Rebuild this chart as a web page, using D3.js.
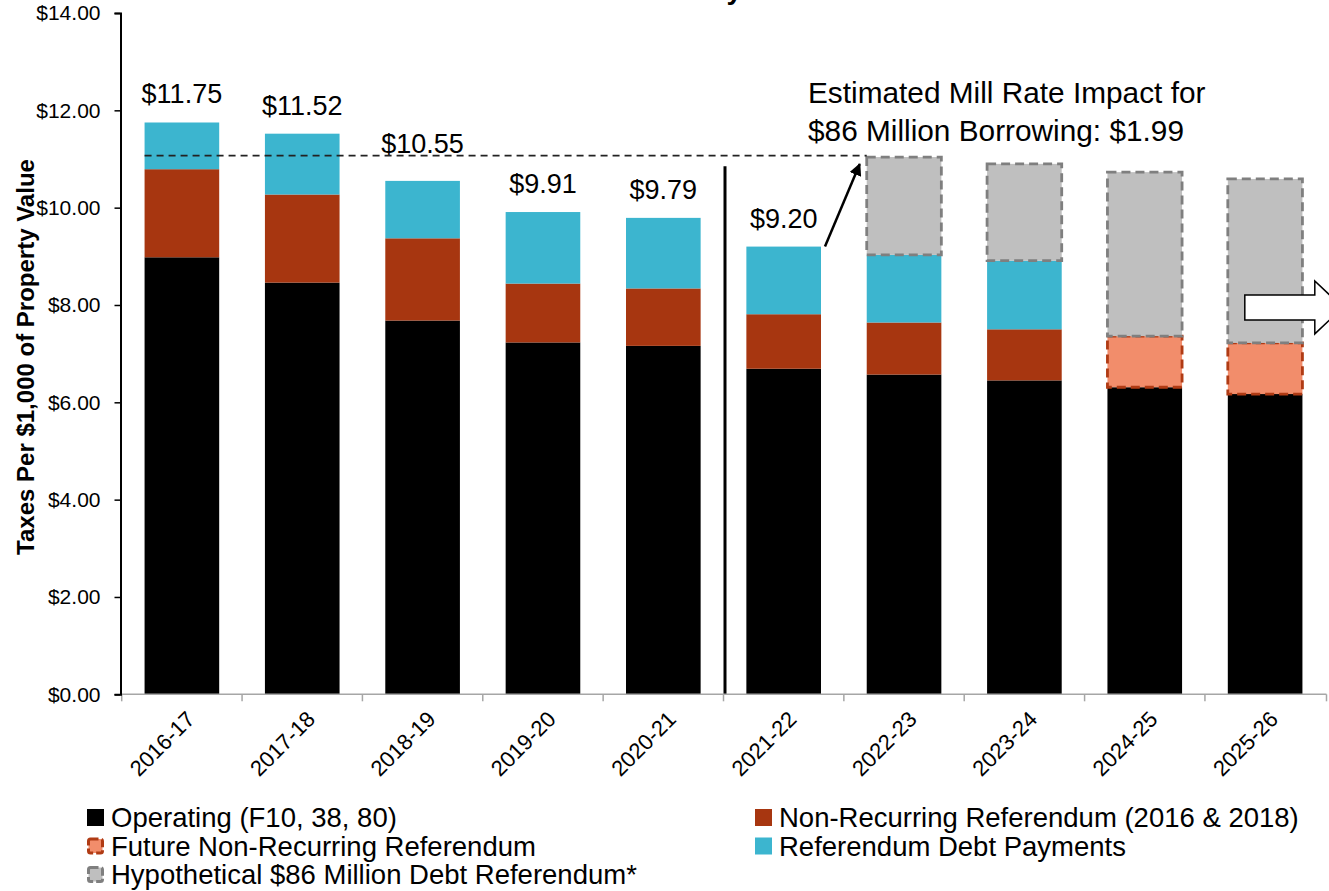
<!DOCTYPE html>
<meta charset="utf-8">
<head>
<style>
body { margin: 0; background: #fff; }
svg { display: block; font-family: "Liberation Sans", Arial, sans-serif; }
.tick text { fill: #000; }
</style>
</head>
<body>
<script src="https://d3js.org/d3.v7.min.js"></script>
<script>

// chart data
var years = ["2016-17", "2017-18", "2018-19", "2019-20", "2020-21",
             "2021-22", "2022-23", "2023-24", "2024-25", "2025-26"];
var operating          = [8.98, 8.46, 7.68, 7.23, 7.16, 6.69, 6.57, 6.45, 6.31, 6.17];
var nonRecurring       = [1.81, 1.81, 1.69, 1.21, 1.18, 1.12, 1.07, 1.05, 0, 0];
var futureNonRecurring = [0, 0, 0, 0, 0, 0, 0, 0, 1.05, 1.05];
var debtPayments       = [0.96, 1.25, 1.18, 1.47, 1.45, 1.39, 1.39, 1.41, 0, 0];
var hypothetical       = [0, 0, 0, 0, 0, 0, 2.01, 1.99, 3.37, 3.37];
var yTicks = [0, 2, 4, 6, 8, 10, 12, 14];
var millImpact = 1.99;

var keys = ["operating", "nonRecurring", "futureNonRecurring", "debtPayments", "hypothetical"];
var names = {
  operating: "Operating (F10, 38, 80)",
  nonRecurring: "Non-Recurring Referendum (2016 & 2018)",
  futureNonRecurring: "Future Non-Recurring Referendum",
  debtPayments: "Referendum Debt Payments",
  hypothetical: "Hypothetical $86 Million Debt Referendum*"
};
var fills = {
  operating: "#000000",
  nonRecurring: "#A73610",
  futureNonRecurring: "#F28D6B",
  debtPayments: "#3CB5CF",
  hypothetical: "#BFBFBF"
};
var dashStroke = { futureNonRecurring: "#B03B14", hypothetical: "#7F7F7F" };

var data = years.map(function(y, i) {
  return {
    year: y,
    operating: operating[i],
    nonRecurring: nonRecurring[i],
    futureNonRecurring: futureNonRecurring[i],
    debtPayments: debtPayments[i],
    hypothetical: hypothetical[i]
  };
});

var width = 1329, height = 891;
var plot = {left: 120.5, right: 1326.5, top: 13, bottom: 694.3};

var svg = d3.select("body").append("svg")
    .attr("width", width)
    .attr("height", height);

var x = d3.scaleBand()
    .domain(years)
    .range([plot.left, plot.right])
    .paddingInner(0.38)
    .paddingOuter(0.2);

var y = d3.scaleLinear()
    .domain([0, 14])
    .range([plot.bottom, plot.top]);

// title (mostly above the visible area)
svg.append("text")
    .attr("x", 742)
    .attr("y", -1)
    .attr("text-anchor", "end")
    .attr("font-size", 28)
    .attr("font-weight", "bold")
    .text("Mill Rate History");

// stacked bars
var series = d3.stack().keys(keys)(data);

svg.append("g").selectAll("g")
  .data(series)
  .enter().append("g")
    .each(function(s) {
      var key = s.key;
      d3.select(this).selectAll("rect")
        .data(s.filter(function(d) { return d[1] - d[0] > 0; }))
        .enter().append("rect")
          .attr("x", function(d) { return x(d.data.year); })
          .attr("y", function(d) { return y(d[1]); })
          .attr("width", x.bandwidth())
          .attr("height", function(d) { return y(d[0]) - y(d[1]); })
          .attr("fill", fills[key])
          .attr("stroke", dashStroke[key] || "none")
          .attr("stroke-width", dashStroke[key] ? 2.8 : 0)
          .attr("stroke-dasharray", dashStroke[key] ? "9 5" : null);
    });

// totals above the bars without the hypothetical borrowing
var refTotal = data[6].operating + data[6].nonRecurring + data[6].debtPayments + data[6].hypothetical;
var yDash = y(refTotal) - 1.5;

data.forEach(function(d) {
  if (d.hypothetical > 0) return;
  var total = d.operating + d.nonRecurring + d.futureNonRecurring + d.debtPayments;
  var base = y(total) - 19;
  if (base > yDash && base - 20 < yDash) base = yDash - 3;
  svg.append("text")
      .attr("x", x(d.year) + x.bandwidth() / 2)
      .attr("y", base)
      .attr("text-anchor", "middle")
      .attr("font-size", 27)
      .text(d3.format("$.2f")(total));
});

// dashed reference line at the 2022-23 level
svg.append("line")
    .attr("x1", x(years[0]))
    .attr("x2", x("2022-23"))
    .attr("y1", yDash)
    .attr("y2", yDash)
    .attr("stroke", "#222")
    .attr("stroke-width", 1.8)
    .attr("stroke-dasharray", "7 5");

// divider between actual and projected years
var xDiv = x("2021-22") - x.step() * x.paddingInner() / 2 + 1.5;
svg.append("line")
    .attr("x1", xDiv).attr("x2", xDiv)
    .attr("y1", y(10.85)).attr("y2", y(0))
    .attr("stroke", "#000")
    .attr("stroke-width", 3);

// x axis: ticks between categories
var bounds = years.map(function(yr) { return x(yr) - x.step() * x.paddingInner() / 2; });
bounds.push(plot.right);
var xAxis = svg.append("g");
xAxis.append("line")
    .attr("x1", plot.left).attr("x2", plot.right)
    .attr("y1", plot.bottom).attr("y2", plot.bottom)
    .attr("stroke", "#A6A6A6").attr("stroke-width", 1.5);
xAxis.selectAll("line.tk")
  .data(bounds)
  .enter().append("line")
    .attr("class", "tk")
    .attr("x1", function(d) { return d; }).attr("x2", function(d) { return d; })
    .attr("y1", plot.bottom).attr("y2", plot.bottom + 7)
    .attr("stroke", "#A6A6A6").attr("stroke-width", 1.5);
xAxis.selectAll("text")
  .data(years)
  .enter().append("text")
    .attr("transform", function(d) {
      return "translate(" + (x(d) + x.bandwidth() / 2 + 3) + "," + (plot.bottom + 15) + ") rotate(-45)";
    })
    .attr("text-anchor", "end")
    .attr("dy", "0.72em")
    .attr("font-size", 22)
    .text(function(d) { return d; });

// y axis
svg.append("g")
    .attr("transform", "translate(" + plot.left + ",0)")
    .call(d3.axisLeft(y).tickValues(yTicks).tickSize(6).tickPadding(14)
      .tickFormat(d3.format("$.2f")))
    .call(function(g) {
      g.select(".domain").attr("stroke", "#000").attr("stroke-width", 2);
      g.selectAll(".tick line").attr("stroke", "#000").attr("stroke-width", 1.5);
      g.selectAll(".tick text").attr("font-size", 21).attr("font-family", "Liberation Sans, Arial, sans-serif");
    });

svg.append("text")
    .attr("transform", "translate(34,357) rotate(-90)")
    .attr("text-anchor", "middle")
    .attr("font-size", 24)
    .attr("font-weight", "bold")
    .text("Taxes Per $1,000 of Property Value");

// annotation for the borrowing impact
var note = svg.append("text")
    .attr("x", 808)
    .attr("font-size", 29.8);
note.append("tspan").attr("x", 808).attr("y", 103).text("Estimated Mill Rate Impact for");
note.append("tspan").attr("x", 808).attr("y", 141).text("$86 Million Borrowing: " + d3.format("$.2f")(millImpact));

svg.append("defs").append("marker")
    .attr("id", "head")
    .attr("viewBox", "0 0 10 10")
    .attr("refX", 9).attr("refY", 5)
    .attr("markerWidth", 5).attr("markerHeight", 5)
    .attr("orient", "auto")
  .append("path")
    .attr("d", "M0,0L10,5L0,10z")
    .attr("fill", "#000");

svg.append("line")
    .attr("x1", x("2021-22") + x.bandwidth() + 4)
    .attr("y1", y(9.20))
    .attr("x2", x("2022-23") - 7)
    .attr("y2", y(refTotal) + 7)
    .attr("stroke", "#000")
    .attr("stroke-width", 2.5)
    .attr("marker-end", "url(#head)");

// block arrow pointing right past the last year
var ax = x("2025-26") + 17, ay = y(7.95);
svg.append("path")
    .attr("d", "M" + ax + "," + (ay - 12.5) + "h70v-14l28,26.5l-28,26.5v-14h-70z")
    .attr("fill", "#fff")
    .attr("stroke", "#000")
    .attr("stroke-width", 1.5);

// legend
var legendItems = [
  {key: "operating", col: 0, row: 0},
  {key: "nonRecurring", col: 1, row: 0},
  {key: "futureNonRecurring", col: 0, row: 1},
  {key: "debtPayments", col: 1, row: 1},
  {key: "hypothetical", col: 0, row: 2}
];
var colX = [87, 755];
var legend = svg.append("g");
legendItems.forEach(function(it) {
  var lx = colX[it.col], base = 827 + it.row * 28.5;
  legend.append("rect")
      .attr("x", lx + (dashStroke[it.key] ? 1.5 : 0))
      .attr("y", base - 18 + (dashStroke[it.key] ? 1.5 : 0))
      .attr("width", dashStroke[it.key] ? 14 : 17)
      .attr("height", dashStroke[it.key] ? 14 : 17)
      .attr("rx", dashStroke[it.key] ? 2 : 0)
      .attr("fill", fills[it.key])
      .attr("stroke", dashStroke[it.key] || "none")
      .attr("stroke-width", dashStroke[it.key] ? 3 : 0)
      .attr("stroke-dasharray", dashStroke[it.key] ? "8 3" : null);
  legend.append("text")
      .attr("x", lx + 24)
      .attr("y", base)
      .attr("font-size", 27.5)
      .text(names[it.key]);
});

</script>
</body>
